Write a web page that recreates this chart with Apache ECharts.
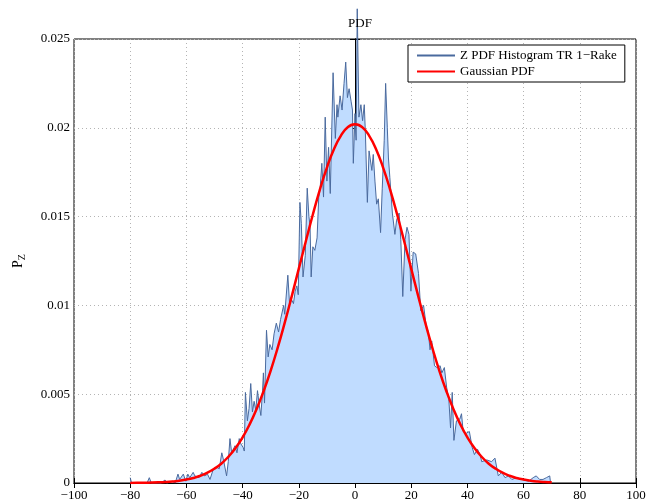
<!DOCTYPE html>
<html>
<head>
<meta charset="utf-8">
<script src="https://cdn.jsdelivr.net/npm/echarts@6/dist/echarts.min.js"></script>
<style>html,body{margin:0;padding:0;background:#fff}#c{width:655px;height:503px}</style>
</head>
<body>
<div id="c"></div>
<script>
// Histogram (x, P_Z)
const histX = [-80,-79.5,-76,-74,-73.2,-72.5,-69,-67.6,-67,-65,-64,-63,-62.4,-61.1,-60.2,-59.5,-58.8,-57.6,-57,-56.4,-55.5,
  -54.5,-53.5,-52.5,-51.6,-50.6,-49.3,-48.3,-47.4,-46.8,-45.7,-45.1,-44.5,-43.9,-43.2,-42.7,-42,-41.2,-40.6,-39.8,-39.4,-39,-38.3,-37.7,-37.1,-36.5,-35.9,-35.3,-34.7,-34.1,-33.5,-32.9,-32.6,-32.2,-31.5,-30.9,-30.3,
  -29.5,-28.8,-28,-27.2,-26.5,-25.4,-25,-23.9,-23.3,-22.5,-21.9,-21.3,-20.7,-20.2,-19.6,-19.1,-18.5,-17.7,-17,-16.4,-16,-15.6,-15,-14.3,-13.5,-12.9,-12.4,-11.8,-11.2,-10.6,-10,-9.4,-8.8,-7.8,-7,-6.4,
  -6.1,-5.3,-4.6,-3.9,-3.3,-2.7,-2.1,-1.4,-0.9,-0.6,0,0.4,0.8,1.4,2.1,2.7,3.3,3.7,4.4,5,6,6.5,7.1,7.7,8.3,9.1,9.7,10.4,10.9,11.5,11.9,12.4,13.3,14.2,14.8,15.7,16.3,17,17.8,18.5,19.2,
  19.9,20.7,21.6,22.6,23.4,24.4,25.3,26.1,26.7,27.3,28.3,29.1,30.3,30.9,31.8,32.6,33.4,34,34.6,35.2,36.1,37.3,37.9,38.5,39.6,40.7,41.7,42.5,43.6,
  44.5,45.1,45.7,46.9,48.6,49.8,51,52.2,53.4,54.6,55.8,57.6,59.4,61.8,63.4,64.5,65.7,66.9,68.1,69.3,69.6];
const histY = [0.0003,0,0,0,0.0003,0,0,0.00017,0,0.0001,0,0.0005,0.0002,0.0005,0.0001,0.0005,0.0003,0.0006,0.0004,0.0005,0.0003,
  0.0006,0.0004,0.0005,0.0002,0.0007,0.0009,0.0008,0.0017,0.0013,0.0004,0.0012,0.0025,0.0017,0.0018,0.0021,0.0017,0.0025,0.0022,0.002,0.0018,0.0051,0.0035,0.0042,0.0056,0.004,0.0046,0.0041,0.0052,0.0044,0.0038,0.0052,0.0062,0.0045,0.0086,0.0071,0.0078,
  0.0075,0.0084,0.009,0.0085,0.0092,0.01,0.0095,0.0117,0.0101,0.0103,0.0101,0.0108,0.0111,0.0106,0.0158,0.0146,0.0116,0.0128,0.0166,0.015,0.0145,0.0116,0.0133,0.0131,0.0138,0.0161,0.0166,0.018,0.0161,0.0206,0.017,0.0189,0.0163,0.0231,0.0194,0.0213,
  0.0206,0.0218,0.021,0.0225,0.0237,0.0217,0.0222,0.0215,0.021,0.018,0.0208,0.0193,0.0267,0.0206,0.0213,0.0204,0.0213,0.0197,0.0158,0.0187,0.0176,0.0185,0.017,0.0157,0.016,0.0141,0.0166,0.0193,0.0225,0.02,0.0183,0.0172,0.0152,0.014,0.0148,0.0152,0.0137,0.0105,0.0137,0.0144,0.014,
  0.0108,0.013,0.0129,0.0118,0.0097,0.01,0.0089,0.0085,0.0075,0.008,0.0066,0.0065,0.0066,0.0062,0.0065,0.0054,0.0047,0.0031,0.0051,0.0024,0.0035,0.0036,0.0039,0.0029,0.0028,0.0029,0.002,0.0016,0.0019,
  0.0016,0.0012,0.0011,0.0013,0.0012,0.0014,0.0004,0.0006,0.0003,0.0004,0.0002,0.0003,0.0002,0.0001,0.0003,0.0004,0.0002,0.0002,0.0003,0.0004,0];

// Gaussian PDF curve
const gaussX = [-80,-77.5,-75,-72.5,-70,-67.5,-65,-62.5,-60,-57.5,-55,-52.5,-50,-47.5,-45,-42.5,-40,-37.5,-35,-32.5,-30,-27.5,-25,-22.5,-20,-17.5,-15,-12.5,-10,-7.5,-5,-2.5,0,
  2.5,5,7.5,10,12.5,15,17.5,20,22.5,25,27.5,30,32.5,35,37.5,40,42.5,45,47.5,50,52.5,55,57.5,60,62.5,65,67.5,70];
const gaussY = [0.000005,0.000009,0.000014,0.000023,0.000037,0.000057,0.000087,0.000132,0.000195,0.000285,0.00041,0.00058,0.00081,0.0011,0.00149,0.00197,0.00257,0.0033,0.00417,0.00518,0.00633,0.00762,0.00903,0.01052,0.01207,0.01361,0.01512,0.01652,0.01776,0.01879,0.01956,0.02004,0.0202,
  0.02004,0.01956,0.01879,0.01776,0.01652,0.01512,0.01361,0.01207,0.01052,0.00903,0.00762,0.00633,0.00518,0.00417,0.0033,0.00257,0.00197,0.00149,0.0011,0.00081,0.00058,0.00041,0.000285,0.000195,0.000132,0.000087,0.000057,0.000037];

const seriesNames = ['Z PDF Histogram TR 1\u2212Rake', 'Gaussian PDF'];
const xMin = -100, xMax = 100, xStep = 20;
const yMin = 0, yMax = 0.025, yStep = 0.005;

const FONT = 'Liberation Serif';
const chart = echarts.init(document.getElementById('c'), null, {renderer: 'canvas'});
const minus = v => (v < 0 ? '\u2212' : '') + Math.abs(v);
const dotted = {show: true, lineStyle: {color: '#b4b4b4', width: 1, type: [1, 3]}};
const axLine = {show: true, lineStyle: {color: '#000', width: 1}};
const tickIn = {show: true, inside: true, length: 5, lineStyle: {color: '#000'}};

chart.setOption({
  animation: false,
  backgroundColor: '#fff',
  textStyle: {fontFamily: FONT},
  title: {text: 'PDF', left: 355, top: 12, textAlign: 'center',
    textStyle: {fontFamily: FONT, fontSize: 13, fontWeight: 'normal', color: '#000'}},
  grid: {left: 74, top: 39, width: 562, height: 444, show: true, borderColor: '#000', borderWidth: 1, containLabel: false},
  legend: {
    left: 408, top: 45, orient: 'vertical',
    data: seriesNames,
    itemWidth: 38, itemHeight: 14, itemGap: 3,
    padding: [4, 8, 4, 8],
    itemStyle: {opacity: 0},
    borderColor: '#000', borderWidth: 1, backgroundColor: '#fff',
    textStyle: {fontFamily: FONT, fontSize: 13, color: '#000'}
  },
  xAxis: [
    {type: 'value', min: xMin, max: xMax, interval: xStep, position: 'bottom',
      axisLine: axLine, axisTick: tickIn, splitLine: dotted,
      axisLabel: {formatter: minus, color: '#000', fontFamily: FONT, fontSize: 13, margin: 6}},
    {type: 'value', min: xMin, max: xMax, interval: xStep, position: 'top',
      axisLine: axLine, axisTick: tickIn, splitLine: {show: false}, axisLabel: {show: false}}
  ],
  yAxis: [
    {type: 'value', min: yMin, max: yMax, interval: yStep, position: 'left',
      axisLine: axLine, axisTick: tickIn, splitLine: dotted,
      axisLabel: {color: '#000', fontFamily: FONT, fontSize: 13, margin: 4},
      name: '{p|P}{z|Z}', nameLocation: 'middle', nameRotate: 90, nameGap: 47,
      nameTextStyle: {rich: {
        p: {fontFamily: FONT, fontSize: 14, color: '#000'},
        z: {fontFamily: FONT, fontSize: 10, color: '#000', padding: [8, 0, 0, 0]}
      }}},
    {type: 'value', min: yMin, max: yMax, interval: yStep, position: 'right',
      axisLine: axLine, axisTick: tickIn, splitLine: {show: false}, axisLabel: {show: false}}
  ],
  series: [
    {name: seriesNames[0], type: 'line', xAxisIndex: 0, yAxisIndex: 0,
      data: histX.map((x, i) => [x, histY[i]]),
      symbol: 'none', clip: false, z: 2,
      lineStyle: {color: '#4a6a9e', width: 1},
      itemStyle: {color: '#4f78b8'},
      areaStyle: {color: '#c0dcff', opacity: 1}},
    {name: seriesNames[1], type: 'line', xAxisIndex: 0, yAxisIndex: 0,
      data: gaussX.map((x, i) => [x, gaussY[i]]),
      symbol: 'none', smooth: true, z: 3,
      lineStyle: {color: '#ff0000', width: 2.5},
      itemStyle: {color: '#ff0000'}}
  ]
});
</script>
</body>
</html>
